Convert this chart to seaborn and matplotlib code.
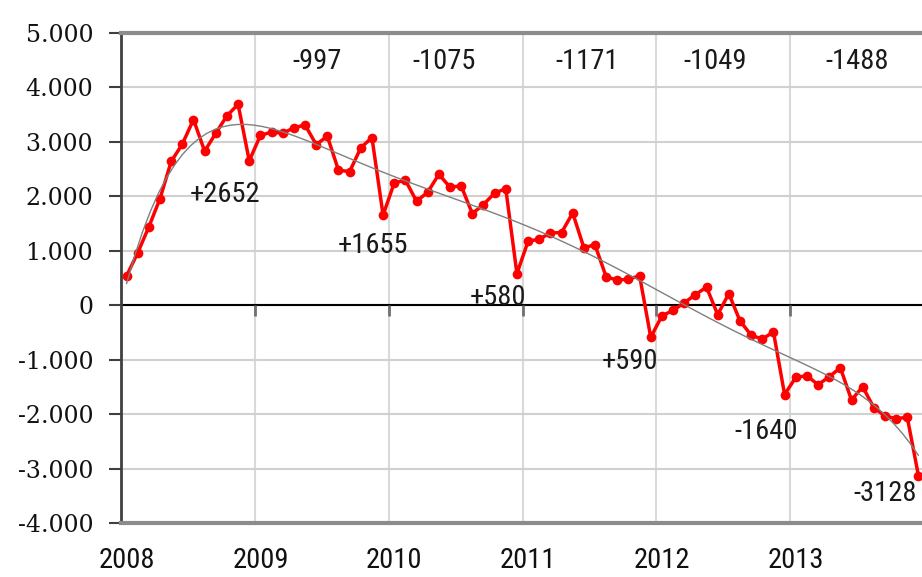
import matplotlib
matplotlib.use('Agg')
import matplotlib.pyplot as plt
from matplotlib import font_manager
import numpy as np
import pandas as pd
import seaborn as sns

# monthly values, Jan 2008 - Dec 2013
values = [539, 964, 1440, 1960, 2640, 2960, 3410, 2830, 3160, 3480, 3690, 2652,
          3120, 3180, 3160, 3257, 3312, 2951, 3104, 2480, 2455, 2890, 3080, 1655,
          2247, 2296, 1910, 2075, 2406, 2167, 2192, 1683, 1849, 2060, 2140, 580,
          1175, 1212, 1328, 1334, 1695, 1059, 1108, 522, 461, 479, 540, -590,
          -194, -96, 44, 194, 332, -172, 212, -287, -550, -623, -489, -1640,
          -1326, -1295, -1460, -1314, -1148, -1741, -1497, -1881, -2034, -2083, -2059, -3128]
years = ['2008', '2009', '2010', '2011', '2012', '2013']
year_changes = ['-997', '-1075', '-1171', '-1049', '-1488']
year_end = ['+2652', '+1655', '+580', '+590', '-1640', '-3128']

df = pd.DataFrame({'month': np.arange(len(values)), 'value': values})

sns.set_style('white')

# pick a narrow sans font if one is there
fonts = font_manager.fontManager.ttflist
names = {f.name for f in fonts}
narrow = {'family': ['Liberation Sans'], 'stretch': 'normal', 'size': 18}
if 'Liberation Sans Narrow' in names:
    narrow = {'family': ['Liberation Sans Narrow'], 'stretch': 'normal', 'size': 21}
elif 'Roboto Condensed' in names:
    narrow = {'family': ['Roboto Condensed'], 'stretch': 'normal', 'size': 20.5}
elif any(f.name == 'DejaVu Sans' and 'ondensed' in str(f.stretch) for f in fonts):
    narrow = {'family': ['DejaVu Sans'], 'stretch': 'condensed', 'size': 19}
elif 'Open Sans Condensed' in names:
    narrow = {'family': ['Open Sans Condensed'], 'stretch': 'normal', 'size': 20}

fig = plt.figure(figsize=(9.22, 5.77), dpi=100)
ax = fig.add_axes([121 / 922, 1 - 523 / 577, 803 / 922, 490 / 577])

sns.lineplot(data=df, x='month', y='value', color='#ff0000', lw=2.5,
             marker='o', markersize=7, markeredgewidth=0, ax=ax, zorder=3)
sns.regplot(data=df, x='month', y='value', order=6, scatter=False, ci=None,
            color='#7f7f7f', line_kws={'lw': 1, 'zorder': 4}, ax=ax)

ax.set_xlim(-0.5, 71.5)
ax.set_ylim(-4000, 5000)
ax.set_xlabel('')
ax.set_ylabel('')

yt = np.arange(-4000, 5001, 1000)
ax.set_yticks(yt)
ax.set_yticklabels([f'{v:,.0f}'.replace(',', '.') for v in yt],
                   family='DejaVu Serif', fontsize=17)
ax.set_xticks(np.arange(0, 72, 12))
ax.set_xticklabels(years, **narrow)
ax.set_xticks(np.arange(11.5, 71.5, 12), minor=True)

ax.tick_params(axis='y', which='major', length=9, width=1.5, color='#404040',
               pad=11, left=True, labelcolor='#111111')
ax.tick_params(axis='x', which='both', length=0, pad=17, labelcolor='#111111')

ax.grid(axis='y', which='major', color='#d0d0d0', lw=1.5)
ax.grid(axis='x', which='minor', color='#d9d9d9', lw=1.5)
ax.set_axisbelow(True)

# horizontal axis at zero with its tick marks
ax.axhline(0, color='black', lw=1.5, zorder=2)
ax.vlines(np.arange(11.5, 71.5, 12), -190, 0, color='#707070', lw=2, zorder=2)

for s in ['top', 'bottom']:
    ax.spines[s].set_color('#8c8c8c')
    ax.spines[s].set_linewidth(3)
ax.spines['left'].set_color('#404040')
ax.spines['left'].set_linewidth(2)
ax.spines['right'].set_visible(False)

top_x = [17.1, 28.5, 41.3, 52.8, 65.5]
for x, t in zip(top_x, year_changes):
    ax.text(x, 4480, t, ha='center', va='center', color='#1a1a1a', **narrow)

end_x = [8.8, 22.1, 33.3, 45.1, 57.3, 68.0]
end_y = [2026, 1105, 147, -1031, -2311, -3462]
for x, y, t in zip(end_x, end_y, year_end):
    ax.text(x, y, t, ha='center', va='center', color='#1a1a1a', **narrow)

fig.savefig('out.png', dpi=100)
